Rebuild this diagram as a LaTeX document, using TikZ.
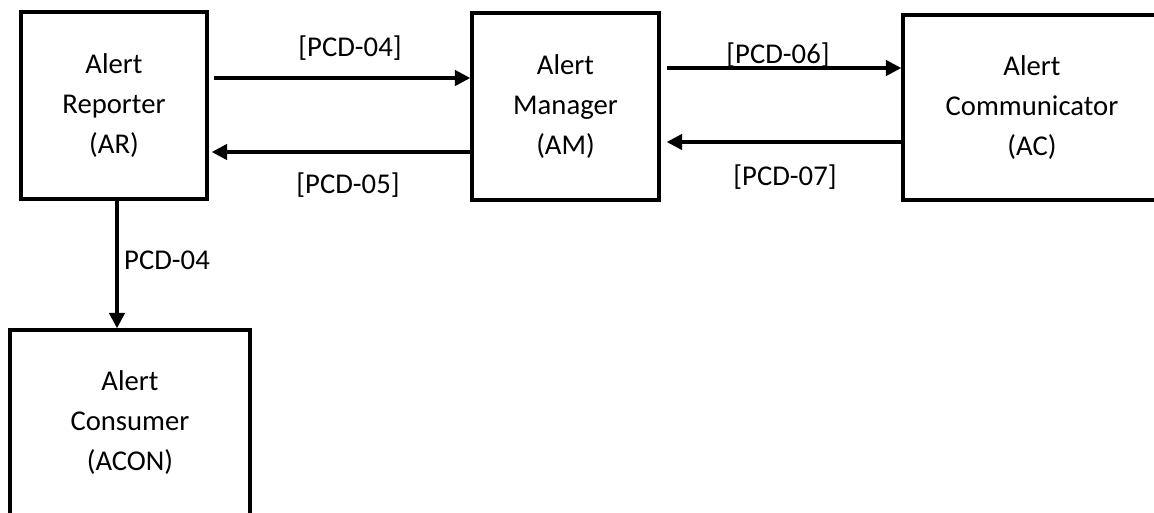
\documentclass[tikz,border=0pt]{standalone}
\usepackage{fontspec}
\setmainfont{Carlito}
\usetikzlibrary{arrows.meta,calc}
\begin{document}
\begin{tikzpicture}[x=0.75pt,y=-0.75pt,
  box/.style={draw=black,line width=2.6pt,inner sep=0pt,align=center,
    font=\fontsize{21.5}{30}\selectfont},
  lbl/.style={inner sep=0pt,font=\fontsize{21.5}{25}\selectfont},
  arr/.style={line width=2.4pt,-{Triangle[length=11.5pt,width=11.5pt]}}]
\fill[white] (0,0) rectangle (1154,512);
\useasboundingbox (0,0) rectangle (1154,512);
\clip (0,0) rectangle (1154,512);
\node[box,minimum width=139.5pt,minimum height=140.25pt] (AR) at (114,105.5) {Alert\\Reporter\\(AR)};
\node[box,minimum width=140.25pt,minimum height=140.25pt] (AM) at (565.5,106.5) {Alert\\Manager\\(AM)};
\node[box,minimum width=193.5pt,minimum height=138.75pt] (AC) at (1032,107.5) {Alert\\Communicator\\(AC)};
\node[box,minimum width=180pt,minimum height=139.5pt] (ACON) at (130,423) {Alert\\Consumer\\(ACON)};
\draw[arr] ($(AR.east)+(5,-27.5)$) -- ($(AM.west)+(0,-28.5)$);
\draw[arr] ($(AM.west)+(0,45.5)$) -- ($(AR.east)+(3,46.5)$);
\draw[arr] ($(AM.east)+(6,-38.5)$) -- ($(AC.west)+(0,-39.5)$);
\draw[arr] ($(AC.west)+(0,34.5)$) -- ($(AM.east)+(6,35.5)$);
\draw[arr] ($(AR.south)+(3,0)$) -- ($(ACON.north)+(-13,0)$);
\node[lbl] (l1) at (350,48) {[PCD-04]};
\node[lbl] (l2) at (348,185) {[PCD-05]};
\node[lbl] (l3) at (778,55) {[PCD-06]};
\node[lbl] (l4) at (785,177) {[PCD-07]};
\node[lbl] (l5) at (167,260) {PCD-04};
\end{tikzpicture}
\end{document}
